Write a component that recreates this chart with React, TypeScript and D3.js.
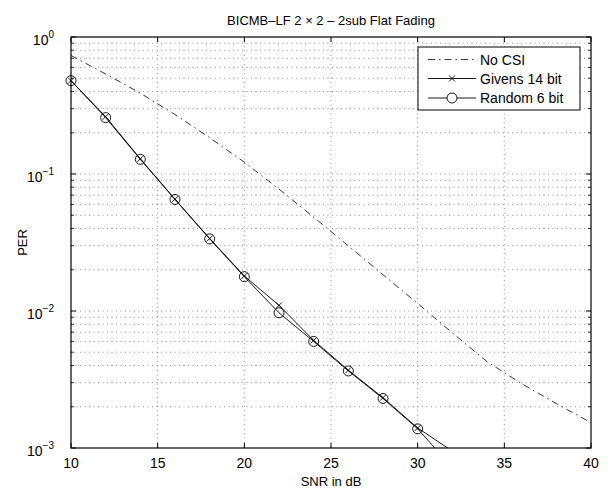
import React from "react";
import * as d3 from "d3";

const snrNoCsi = [10, 12, 14, 16, 18, 20, 22, 24, 26, 28, 30, 32, 34, 36, 38, 40];
const perNoCsi = [0.733, 0.537, 0.389, 0.272, 0.184, 0.122, 0.0776, 0.0484, 0.0299, 0.0184, 0.01135, 0.00692, 0.00427, 0.00295, 0.00211, 0.00153];

const snrBits = [10, 12, 14, 16, 18, 20, 22, 24, 26, 28, 30, 32];
const perGivens = [0.48, 0.262, 0.129, 0.0655, 0.0338, 0.018, 0.011, 0.0061, 0.0037, 0.00233, 0.0014, 0.00095];
const perRandom = [0.48, 0.258, 0.128, 0.0652, 0.0336, 0.0178, 0.0097, 0.006, 0.00365, 0.0023, 0.00138, 0.00072];

const xTicks = [10, 15, 20, 25, 30, 35, 40];
const yDecades = [0, -1, -2, -3];
const legendLabels = ["No CSI", "Givens 14 bit", "Random 6 bit"];

const W = 610, H = 492;
const L = 71, R = 591, T = 37, B = 448;
const FONT = "'Liberation Sans', Arial, Helvetica, sans-serif";

export default function App() {
  const x = d3.scaleLinear().domain([10, 40]).range([L, R]);
  const y = d3.scaleLog().domain([1e-3, 1]).range([B, T]);

  const minorVals: number[] = [];
  for (let e = -3; e < 0; e++) {
    for (let m = 2; m <= 9; m++) minorVals.push(m * Math.pow(10, e));
  }
  const majorVals = yDecades.map((e) => Math.pow(10, e));

  const line = d3
    .line<[number, number]>()
    .x((d) => x(d[0]))
    .y((d) => y(d[1]));

  const noCsi = snrNoCsi.map((s, i) => [s, perNoCsi[i]] as [number, number]);
  const givens = snrBits.map((s, i) => [s, perGivens[i]] as [number, number]);
  const random = snrBits.map((s, i) => [s, perRandom[i]] as [number, number]);

  const inDomain = (d: [number, number]) => d[1] >= 1e-3 && d[1] <= 1 && d[0] >= 10 && d[0] <= 40;

  const gridStyle = { stroke: "#444", strokeWidth: 0.6, strokeDasharray: "1,3.5" };
  const dashDot = "7,4,1.5,4";

  const xMark = (cx: number, cy: number, s: number, key: string) => (
    <g key={key}>
      <line x1={cx - s} y1={cy - s} x2={cx + s} y2={cy + s} stroke="#000" strokeWidth={0.9} />
      <line x1={cx - s} y1={cy + s} x2={cx + s} y2={cy - s} stroke="#000" strokeWidth={0.9} />
    </g>
  );

  const legX = 418, legY = 47, legW = 162, legH = 63;
  const rowY = [59.5, 78.5, 98];

  return (
    <svg width={W} height={H} style={{ position: "absolute", left: 0, top: 0, background: "#fff" }} fontFamily={FONT}>
      <rect x={0} y={0} width={W} height={H} fill="#fff" />
      <defs>
        <clipPath id="plotClip">
          <rect x={L} y={T} width={R - L} height={B - T} />
        </clipPath>
      </defs>
      {/* grid */}
      {xTicks.slice(1, -1).map((t) => (
        <line key={"gx" + t} x1={x(t)} x2={x(t)} y1={T} y2={B} {...gridStyle} />
      ))}
      {[...minorVals, ...majorVals.slice(1, -1)].map((v, i) => (
        <line key={"gy" + i} x1={L} x2={R} y1={y(v)} y2={y(v)} {...gridStyle} />
      ))}
      {/* ticks */}
      {xTicks.map((t) => (
        <g key={"tx" + t}>
          <line x1={x(t)} x2={x(t)} y1={B} y2={B - 5} stroke="#000" strokeWidth={1} />
          <line x1={x(t)} x2={x(t)} y1={T} y2={T + 5} stroke="#000" strokeWidth={1} />
          <text x={x(t)} y={468} textAnchor="middle" fontSize={14}>{t}</text>
        </g>
      ))}
      {majorVals.map((v) => (
        <g key={"ty" + v}>
          <line x1={L} x2={L + 5} y1={y(v)} y2={y(v)} stroke="#000" strokeWidth={1} />
          <line x1={R} x2={R - 5} y1={y(v)} y2={y(v)} stroke="#000" strokeWidth={1} />
        </g>
      ))}
      {minorVals.map((v, i) => (
        <g key={"tmy" + i}>
          <line x1={L} x2={L + 3} y1={y(v)} y2={y(v)} stroke="#000" strokeWidth={0.8} />
          <line x1={R} x2={R - 3} y1={y(v)} y2={y(v)} stroke="#000" strokeWidth={0.8} />
        </g>
      ))}
      {yDecades.map((e) => (
        <text key={"yl" + e} x={54} y={y(Math.pow(10, e)) + 7.5} textAnchor="end" fontSize={14}>
          10
          <tspan fontSize={10} dy={-7}>{e === 0 ? "0" : "\u2212" + Math.abs(e)}</tspan>
        </text>
      ))}
      {/* data */}
      <g clipPath="url(#plotClip)">
        <path d={line(noCsi) || ""} fill="none" stroke="#000" strokeWidth={0.8} strokeDasharray={dashDot} />
        <path d={line(givens) || ""} fill="none" stroke="#000" strokeWidth={0.9} />
        <path d={line(random) || ""} fill="none" stroke="#000" strokeWidth={0.9} />
      </g>
      {givens.filter(inDomain).map((d, i) => xMark(x(d[0]), y(d[1]), 3, "gm" + i))}
      {random.filter(inDomain).map((d, i) => (
        <circle key={"rm" + i} cx={x(d[0])} cy={y(d[1])} r={5} fill="none" stroke="#000" strokeWidth={0.9} />
      ))}
      {/* box */}
      <rect x={L} y={T} width={R - L} height={B - T} fill="none" stroke="#000" strokeWidth={1.2} />
      {/* legend */}
      <rect x={legX} y={legY} width={legW} height={legH} fill="#fff" stroke="#000" strokeWidth={1} />
      <line x1={428} x2={476} y1={rowY[0]} y2={rowY[0]} stroke="#000" strokeWidth={0.8} strokeDasharray={dashDot} />
      <line x1={428} x2={476} y1={rowY[1]} y2={rowY[1]} stroke="#000" strokeWidth={0.9} />
      {xMark(452, rowY[1], 3, "legx")}
      <line x1={428} x2={476} y1={rowY[2]} y2={rowY[2]} stroke="#000" strokeWidth={0.9} />
      <circle cx={452} cy={rowY[2]} r={5} fill="#fff" stroke="#000" strokeWidth={0.9} />
      {legendLabels.map((lab, i) => (
        <text key={lab} x={480} y={rowY[i] + 5} fontSize={14}>{lab}</text>
      ))}
      {/* labels */}
      <text x={(L + R) / 2} y={25} textAnchor="middle" fontSize={13}>
        BICMB{"\u2013"}LF 2 {"\u00d7"} 2 {"\u2013"} 2sub Flat Fading
      </text>
      <text x={(L + R) / 2} y={486} textAnchor="middle" fontSize={13}>SNR in dB</text>
      <text transform={`translate(27,${(T + B) / 2}) rotate(-90)`} textAnchor="middle" fontSize={13}>PER</text>
    </svg>
  );
}
